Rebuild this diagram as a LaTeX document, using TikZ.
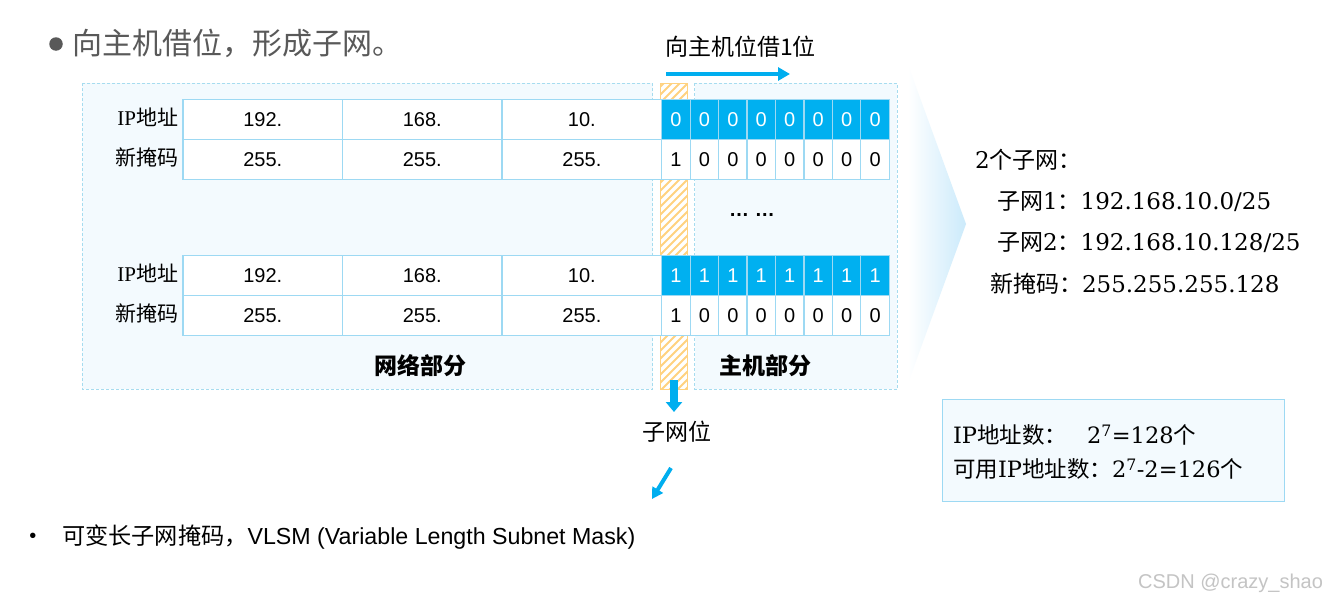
\documentclass[tikz,border=0pt]{standalone}
\usepackage{fontspec}
\setmainfont{Liberation Sans}
\newfontfamily\cjk{Noto Sans CJK SC}
\newfontfamily\dser{DejaVu Serif}
\newfontfamily\tnr{Liberation Serif}
\usetikzlibrary{arrows.meta}
\definecolor{cellblue}{HTML}{00B0F0}
\definecolor{gridblue}{HTML}{9DD9F3}
\definecolor{boxfill}{HTML}{F3FAFE}
\definecolor{boxline}{HTML}{A6DCEF}
\definecolor{hatchc}{HTML}{FFD280}
\definecolor{arrowblue}{HTML}{00AEEF}
\definecolor{chev}{HTML}{CBEAFB}
\definecolor{titlegray}{HTML}{595959}
\definecolor{wmgray}{HTML}{C4C4C4}
\newcommand\fs[1]{\fontsize{#1}{#1}\selectfont}
\newcommand\iptable[3]{%
  \node[lab] (#1ipl) at (178,#2-2) {{\tnr IP}{\cjk 地址}};
  \node[lab] (#1mkl) at (178,#2+38) {\cjk 新掩码};
  \foreach \v/\cx [count=\i] in {192./262.75,168./422.25,10./581.85}{
    \node[wcell] (#1ip\i) at (\cx,#2) {\v};
    \node[wcell] (#1mk\i) at (\cx,#2+40) {255.};
  }
  \foreach \j in {1,...,8}{
    \node[hbit] (#1ipb\j) at (661.7-14.225+\j*28.45,#2) {#3};
    \node[bcell] (#1mkb\j) at (661.7-14.225+\j*28.45,#2+40) {\ifnum\j=1 1\else 0\fi};
  }
}
\begin{document}
\begin{tikzpicture}[x=1pt,y=-1pt,
  every node/.style={inner sep=0pt,outer sep=0pt},
  cell/.style={draw=gridblue,line width=1.2pt,fill=white,minimum height=40pt,font=\fs{20}},
  wcell/.style={cell,minimum width=159.5pt},
  bcell/.style={cell,minimum width=28.45pt},
  hbit/.style={bcell,fill=cellblue,text=white},
  lab/.style={font=\fs{21},anchor=east},
  dbox/.style={draw=boxline,fill=boxfill,line width=0.8pt,dash pattern=on 3pt off 2pt},
  barrow/.style={draw=arrowblue},
  rtext/.style={font=\fs{23},anchor=west},
  itext/.style={font=\fs{22.5},anchor=west},
  partlabel/.style={font=\fs{23}\cjk\bfseries},
  hatchline/.style={draw=hatchc,line width=2pt},
  ]
\useasboundingbox (0,0) rectangle (1329,605);
\fill[white] (0,0) rectangle (1329,605);

% title
\node[circle,fill=titlegray,minimum size=13.5pt] (tbul) at (56,44) {};
\node[anchor=west,font=\fs{30}\cjk,text=titlegray] (title) at (72,43) {向主机借位，形成子网。};

% dashed part boxes
\path[dbox] (82,83) rectangle (652.7,389);
\path[dbox] (694.5,83) rectangle (897,389);

% hatched stripe
\fill[white] (660,83) rectangle (687,389);
\begin{scope}
  \clip (660,83) rectangle (687,389);
  \foreach \i in {83,91,...,430} \draw[hatchline] (656,\i) -- ++(40,-40);
\end{scope}
\draw[hatchc,line width=0.8pt] (660,83) rectangle (687,389);

% chevron
\shade[left color=white,right color=chev] (908,65) -- (966,224) -- (908,383) -- cycle;

% tables
\iptable{t1}{119.5}{0}
\iptable{t2}{275.5}{1}

\node[font=\fs{20}\bfseries] (dots) at (752,215) {… …};
\node[partlabel] (netpart) at (420,366) {网络部分};
\node[partlabel] (hostpart) at (765,366) {主机部分};

% borrow arrow
\node[anchor=west,font=\fs{23}\cjk] (borrow) at (665,47) {向主机位借1位};
\coordinate (ra1) at (666,74);
\coordinate (ra2) at (790,74);
\draw[barrow,line width=4.5pt,-{Triangle[length=12pt,width=13pt]}] (ra1) -- (ra2);

% subnet bit arrow
\coordinate (da1) at (674,380);
\coordinate (da2) at (674,412);
\draw[barrow,line width=8pt,-{Triangle[length=10pt,width=16pt]}] (da1) -- (da2);
\node[font=\fs{23}\cjk] (subbit) at (676.5,432) {子网位};
\coordinate (ga1) at (671,468);
\coordinate (ga2) at (652,499);
\draw[barrow,line width=4pt,-{Triangle[length=11pt,width=12pt]}] (ga1) -- (ga2);

% right side
\node[rtext] (sub0) at (975,160) {{\dser 2}{\cjk 个子网：}};
\node[rtext] (sub1) at (997,202) {{\cjk 子网}{\dser 1}{\cjk ：}{\dser 192.168.10.0/25}};
\node[rtext] (sub2) at (997,243) {{\cjk 子网}{\dser 2}{\cjk ：}{\dser 192.168.10.128/25}};
\node[rtext] (nmask) at (990,284) {{\cjk 新掩码：}{\dser 255.255.255.128}};

% info box
\node[draw=gridblue,fill=boxfill,line width=1pt,minimum width=342pt,minimum height=102pt] (info) at (1113,450) {};
\node[itext] (info1) at (953,435) {{\dser IP}{\cjk 地址数：}\hspace{20pt}{\dser 2\textsuperscript{7}=128}{\cjk 个}};
\node[itext] (info2) at (953,469) {{\cjk 可用}{\dser IP}{\cjk 地址数：}{\dser 2\textsuperscript{7}-2=126}{\cjk 个}};

% bottom bullet
\node[font=\fs{20}] (bbul) at (33,538) {•};
\node[anchor=west,font=\fs{23.2}] (vlsm) at (62,537) {{\cjk 可变长子网掩码，}VLSM (Variable Length Subnet Mask)};

% watermark
\node[anchor=east,font=\fs{20},text=wmgray] (wm) at (1323,583) {CSDN @crazy\_shao};
\end{tikzpicture}
\end{document}
